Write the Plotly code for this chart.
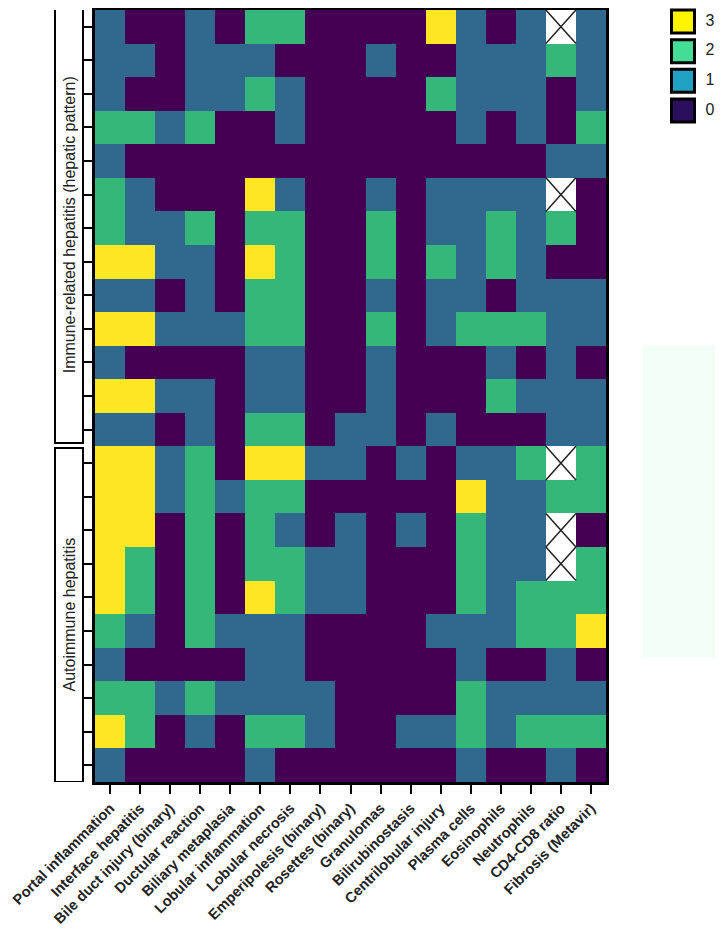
import plotly.graph_objects as go

# ---------------- data ----------------
features = [
    "Portal inflammation", "Interface hepatitis", "Bile duct injury (binary)",
    "Ductular reaction", "Biliary metaplasia", "Lobular inflammation",
    "Lobular necrosis", "Emperipolesis (binary)", "Rosettes (binary)",
    "Granulomas", "Bilirubinostasis", "Centrilobular injury", "Plasma cells",
    "Eosinophils", "Neutrophils", "CD4-CD8 ratio", "Fibrosis (Metavir)",
]

N = None  # missing value (white cell with a cross)

immune_related = [
    [1, 0, 0, 1, 0, 2, 2, 0, 0, 0, 0, 3, 1, 0, 1, N, 1],
    [1, 1, 0, 1, 1, 1, 0, 0, 0, 1, 0, 0, 1, 1, 1, 2, 1],
    [1, 0, 0, 1, 1, 2, 1, 0, 0, 0, 0, 2, 1, 1, 1, 0, 1],
    [2, 2, 1, 2, 0, 0, 1, 0, 0, 0, 0, 0, 1, 0, 1, 0, 2],
    [1, 0, 0, 0, 0, 0, 0, 0, 0, 0, 0, 0, 0, 0, 0, 1, 1],
    [2, 1, 0, 0, 0, 3, 1, 0, 0, 1, 0, 1, 1, 1, 1, N, 0],
    [2, 1, 1, 2, 0, 2, 2, 0, 0, 2, 0, 1, 1, 2, 1, 2, 0],
    [3, 3, 1, 1, 0, 3, 2, 0, 0, 2, 0, 2, 1, 2, 1, 0, 0],
    [1, 1, 0, 1, 0, 2, 2, 0, 0, 1, 0, 1, 1, 0, 1, 1, 1],
    [3, 3, 1, 1, 1, 2, 2, 0, 0, 2, 0, 1, 2, 2, 2, 1, 1],
    [1, 0, 0, 0, 0, 1, 1, 0, 0, 1, 0, 0, 0, 1, 0, 1, 0],
    [3, 3, 1, 1, 0, 1, 1, 0, 0, 1, 0, 0, 0, 2, 1, 1, 1],
    [1, 1, 0, 1, 0, 2, 2, 0, 1, 1, 0, 1, 0, 0, 0, 1, 1],
]

autoimmune = [
    [3, 3, 1, 2, 0, 3, 3, 1, 1, 0, 1, 0, 1, 1, 2, N, 2],
    [3, 3, 1, 2, 1, 2, 2, 0, 0, 0, 0, 0, 3, 1, 1, 2, 2],
    [3, 3, 0, 2, 0, 2, 1, 0, 1, 0, 1, 0, 2, 1, 1, N, 0],
    [3, 2, 0, 2, 0, 2, 2, 1, 1, 0, 0, 0, 2, 1, 1, N, 2],
    [3, 2, 0, 2, 0, 3, 2, 1, 1, 0, 0, 0, 2, 1, 2, 2, 2],
    [2, 1, 0, 2, 1, 1, 1, 0, 0, 0, 0, 1, 1, 1, 2, 2, 3],
    [1, 0, 0, 0, 0, 1, 1, 0, 0, 0, 0, 0, 1, 0, 0, 1, 0],
    [2, 2, 1, 2, 1, 1, 1, 1, 0, 0, 0, 0, 2, 1, 1, 1, 1],
    [3, 2, 0, 1, 0, 2, 2, 1, 0, 0, 1, 1, 2, 1, 2, 2, 2],
    [1, 0, 0, 0, 0, 1, 0, 0, 0, 0, 0, 0, 1, 0, 0, 1, 0],
]

group_names = ["Immune-related hepatitis (hepatic pattern)", "Autoimmune hepatitis"]
legend_levels = [3, 2, 1, 0]
legend_labels = ["3", "2", "1", "0"]

# ---------------- styles ----------------
cell_colors = ["#440154", "#31688E", "#35B779", "#FDE725"]        # 0,1,2,3
legend_colors = {3: "#FFF500", 2: "#44DD98", 1: "#22A2C2", 0: "#2B0E5C"}
FONT = "Arial, 'Liberation Sans', sans-serif"

z = immune_related + autoimmune
n_rows, n_cols = len(z), len(features)

colorscale = []
for i, c in enumerate(cell_colors):
    colorscale.append([i / 4, c])
    colorscale.append([(i + 1) / 4, c])

fig = go.Figure()

fig.add_trace(go.Heatmap(
    z=z, x=list(range(n_cols)), y=list(range(n_rows)),
    zmin=-0.5, zmax=3.5, colorscale=colorscale, showscale=False,
    hoverongaps=False, xaxis="x", yaxis="y",
))

# crosses on missing cells
cx, cy = [], []
for r, row in enumerate(z):
    for c, v in enumerate(row):
        if v is None:
            cx += [c - 0.5, c + 0.5, None, c - 0.5, c + 0.5, None]
            cy += [r - 0.5, r + 0.5, None, r + 0.5, r - 0.5, None]
fig.add_trace(go.Scatter(x=cx, y=cy, mode="lines", line=dict(color="#222", width=1.5),
                         showlegend=False, hoverinfo="skip", xaxis="x", yaxis="y"))

# legend swatches on a small side axis
fig.add_trace(go.Scatter(
    x=[0] * len(legend_levels), y=legend_levels, mode="markers",
    marker=dict(symbol="square", size=23, color=[legend_colors[v] for v in legend_levels],
                line=dict(color="black", width=3)),
    showlegend=False, hoverinfo="skip", xaxis="x2", yaxis="y2", cliponaxis=False,
))
fig.add_trace(go.Scatter(
    x=[1] * len(legend_levels), y=legend_levels, mode="text", text=legend_labels,
    textfont=dict(family=FONT, size=16, color="#222"), textposition="middle center",
    showlegend=False, hoverinfo="skip", xaxis="x2", yaxis="y2", cliponaxis=False,
))

# The page body has an 8px margin; lay out in reference pixel coordinates minus 8.
OFF = 8
W, H = 723 - OFF, 932 - OFF
ML, MR, MT, MB = 95 - OFF, 0, 10 - OFF, 932 - 782
PW = W - ML - MR
PH = H - MT - MB


def px_x(p):
    return (p - OFF - ML) / PW


def px_y(p):
    return (H - MB - (p - OFF)) / PH


main_dom = [0, 511 / PW]

shapes = []
annotations = []
n_imm = len(immune_related)
groups = [(-0.6, n_imm - 0.6), (n_imm - 0.45, n_rows - 0.5)]
for (y0, y1), name in zip(groups, group_names):
    shapes.append(dict(type="rect", xref="paper", yref="y", x0=px_x(55), x1=px_x(83),
                       y0=y0, y1=y1, line=dict(color="black", width=2),
                       fillcolor="white", layer="above"))
    annotations.append(dict(xref="paper", yref="y", x=px_x(69.5), y=(y0 + y1) / 2,
                            text=name, textangle=-90, showarrow=False,
                            font=dict(family=FONT, size=16, color="#222"),
                            xanchor="center", yanchor="middle"))

# faint light rectangle at right
shapes.append(dict(type="rect", xref="paper", yref="paper", x0=px_x(643), x1=px_x(720),
                   y0=px_y(657), y1=px_y(345), line=dict(width=0),
                   fillcolor="#F3FEF8", layer="below"))

fig.update_layout(
    width=W, height=H,
    margin=dict(l=ML, r=MR, t=MT, b=MB, autoexpand=False),
    paper_bgcolor="white", plot_bgcolor="white",
    font=dict(family=FONT, color="#222"),
    showlegend=False,
    shapes=shapes, annotations=annotations,
    xaxis=dict(
        domain=main_dom, range=[-0.5, n_cols - 0.5],
        tickmode="array", tickvals=list(range(n_cols)), ticktext=features,
        tickangle=-45, tickfont=dict(family=FONT, size=14.6, color="#222", weight="bold"),
        ticklabeloverflow="allow",
        ticks="outside", ticklen=9, tickwidth=2, tickcolor="black",
        showline=True, linewidth=3, linecolor="black", mirror=True,
        showgrid=False, zeroline=False, fixedrange=True, automargin=False,
    ),
    yaxis=dict(
        domain=[0, 1], range=[n_rows - 0.5, -0.5],
        tickmode="array", tickvals=list(range(n_rows)), ticktext=[""] * n_rows,
        ticks="outside", ticklen=9, tickwidth=2, tickcolor="black",
        showline=True, linewidth=3, linecolor="black", mirror=True,
        showgrid=False, zeroline=False, fixedrange=True, automargin=False,
    ),
    xaxis2=dict(
        domain=[px_x(660), 1.0], range=[(660 - 683) / 27, (723 - 683) / 27],
        visible=False, anchor="y2", fixedrange=True,
    ),
    yaxis2=dict(
        domain=[px_y(130), 1.0], range=[-(130 - 110.5) / 29.67, 3 + (21.5 - 10) / 29.67],
        visible=False, anchor="x2", fixedrange=True,
    ),
)

fig.write_html("out.html")
